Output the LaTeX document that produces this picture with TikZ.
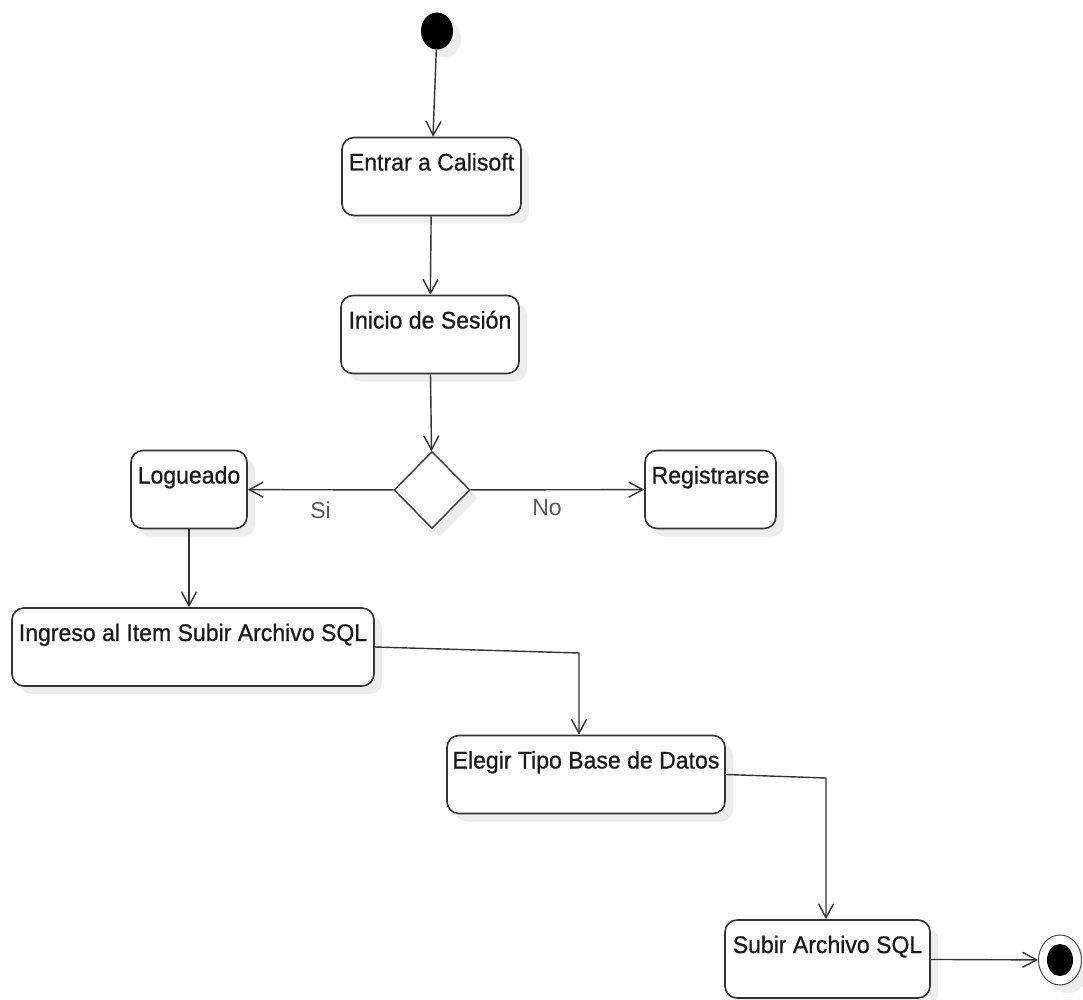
\documentclass[tikz,border=0pt]{standalone}
\usepackage{fontspec}
\setmainfont{Liberation Sans}
\newfontfamily\actfont[FakeBold=0.7,FakeStretch=0.96]{Liberation Sans}
\usetikzlibrary{shapes.geometric,arrows.meta,shadows}

\begin{document}
\begin{tikzpicture}[x=1pt,y=-1pt,
    every node/.style={font=\fontsize{23}{27}\selectfont},
    shade/.style={drop shadow={shadow xshift=8pt,shadow yshift=-8pt,fill=black!7,opacity=1}},
    act/.style={shade,draw=black!80,line width=1.6pt,fill=white,rounded corners=12pt,
      minimum height=78pt,inner xsep=5pt,inner ysep=16pt,text height=17pt,text depth=29pt,
      text=black!90,font=\actfont\fontsize{24}{28}\selectfont},
    decision/.style={shade,diamond,draw=black!78,line width=1.4pt,fill=white,
      minimum width=76pt,minimum height=77pt,inner sep=0pt},
    initial/.style={shade,ellipse,fill=black,minimum width=32pt,minimum height=37pt,inner sep=0pt},
    final/.style={shade,ellipse,draw=black!70,line width=1pt,fill=white,
      minimum width=43pt,minimum height=50pt,inner sep=0pt},
    flow/.style={draw=black!80,line width=1.4pt,-{Straight Barb[length=14pt,width=15pt]}},
    lbl/.style={text=black!65,inner sep=0pt}
  ]
  \useasboundingbox (0,0) rectangle (1083,1000);

  \node[initial] (start) at (437,31) {};
  \node[act,minimum width=179pt] (entrar) at (431.5,176.5) {Entrar a Calisoft};
  \node[act,minimum width=178pt] (inicio) at (430,334.5) {Inicio de Sesión};
  \node[decision] (dec) at (432,490) {};
  \node[act,minimum width=116pt] (logueado) at (189,489.5) {Logueado};
  \node[act,minimum width=131pt] (registro) at (710.5,489.5) {Registrarse};
  \node[act,minimum width=362pt] (ingreso) at (193,647) {Ingreso al Item Subir Archivo SQL};
  \node[act,minimum width=278pt] (elegir) at (586,774.5) {Elegir Tipo Base de Datos};
  \node[act,minimum width=205pt] (subir) at (827.5,959) {Subir Archivo SQL};
  \node[final] (fin) at (1060,960) {};
  \fill (fin) ellipse (13pt and 16pt);

  \coordinate (k1) at (579,653);
  \coordinate (k2) at (826,778);

  \draw[flow] (start) -- (entrar);
  \draw[flow] (entrar) -- (inicio);
  \draw[flow] (inicio) -- (dec);
  \draw[flow] (dec) -- node[lbl,midway,below=11pt] {Si} (logueado);
  \draw[flow] (dec) -- node[lbl,pos=0.44,below=9pt] {No} (registro);
  \draw[flow] (logueado) -- (logueado |- ingreso.north);
  \draw[flow] (ingreso.east) -- (k1) -- (k1 |- elegir.north);
  \draw[flow] (elegir.east) -- (k2) -- (k2 |- subir.north);
  \draw[flow] (subir) -- (fin);
\end{tikzpicture}
\end{document}
